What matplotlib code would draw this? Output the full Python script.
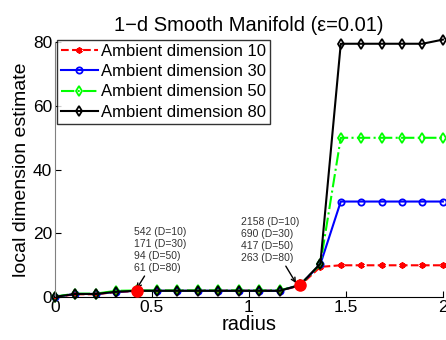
import matplotlib
matplotlib.use('Agg')
import matplotlib.pyplot as plt
import numpy as np

plt.rcParams['font.family'] = ['Liberation Sans', 'DejaVu Sans']

radius = np.linspace(0, 2, 20)
d10 = [0.0, 0.9, 0.9, 1.6, 1.9, 2.0, 2.0, 2.0, 2.0, 2.0, 2.0, 2.0, 3.6, 9.5, 10, 10, 10, 10, 10, 10]
d30 = [0.1, 1.0, 1.0, 1.7, 2.0, 2.0, 2.0, 2.0, 2.0, 2.0, 2.0, 2.0, 3.8, 10.3, 30, 30, 30, 30, 30, 30]
d50 = [0.2, 1.1, 1.1, 2.0, 2.1, 2.1, 2.1, 2.1, 2.1, 2.1, 2.1, 2.1, 3.8, 10.3, 50, 50, 50, 50, 50, 50]
d80 = [0.1, 1.0, 1.0, 1.7, 2.0, 2.0, 2.0, 2.0, 2.0, 2.0, 2.0, 2.0, 3.8, 10.5, 79.5, 79.5, 79.5, 79.5, 79.5, 80.8]
labels = ['Ambient dimension 10', 'Ambient dimension 30', 'Ambient dimension 50', 'Ambient dimension 80']

# highlighted points and their sample counts
hi_idx = [4, 12]
notes = ['542 (D=10)\n171 (D=30)\n94 (D=50)\n61 (D=80)',
         '2158 (D=10)\n690 (D=30)\n417 (D=50)\n263 (D=80)']

fig = plt.figure(figsize=(4.46, 3.40), dpi=100)
ax = fig.add_axes([0.123, 0.126, 0.870, 0.750])

ax.plot(radius, d10, color='red', ls='--', marker=(6, 2, 0), ms=4.5, mew=1.3, lw=1.5, label=labels[0])
ax.plot(radius, d30, color='blue', ls='-', marker='o', ms=4.5, mfc='none', mew=1.3, lw=1.5, label=labels[1])
ax.plot(radius, d50, color='#00ff00', ls='-.', marker='d', ms=5, mfc='none', mew=1.3, lw=1.5, label=labels[2])
ax.plot(radius, d80, color='black', ls='-', marker='d', ms=5, mfc='none', mew=1.3, lw=1.5, label=labels[3])

for i in hi_idx:
    ax.plot(radius[i], d80[i], 'o', color='red', ms=8, zorder=5)

ax.annotate(notes[0], xy=(radius[4], d80[4] + 0.6), xytext=(0.41, 7.5),
            fontsize=7.5, color='#333333', linespacing=1.25, va='bottom', ha='left',
            arrowprops=dict(arrowstyle='->', color='black', lw=1.0, shrinkA=0, shrinkB=0))
ax.annotate(notes[1], xy=(radius[12] - 0.02, d80[12] + 0.6), xytext=(0.96, 10.6),
            fontsize=7.5, color='#333333', linespacing=1.25, va='bottom', ha='left',
            arrowprops=dict(arrowstyle='->', color='black', lw=1.0, shrinkA=0, shrinkB=0))

ax.set_xlim(0, 2)
ax.set_ylim(0, 80)
ax.set_xticks([0, 0.5, 1, 1.5, 2])
ax.set_xticklabels(['0', '0.5', '1', '1.5', '2'])
ax.set_yticks([0, 20, 40, 60, 80])
ax.tick_params(direction='in', labelsize=12.5, length=4, pad=2)
ax.spines['top'].set_visible(False)
ax.spines['right'].set_visible(False)
ax.spines['left'].set_color('#808080')
for p in ax.get_children():
    if isinstance(p, matplotlib.lines.Line2D):
        p.set_clip_on(False)

ax.set_xlabel('radius', fontsize=14.5, labelpad=0)
ax.set_ylabel('local dimension estimate', fontsize=14, labelpad=2)
ax.set_title('1\u2212d Smooth Manifold (\u03b5=0.01)', fontsize=14.5, pad=8)

leg = ax.legend(loc='upper left', bbox_to_anchor=(0.005, 1.01), fontsize=12, frameon=True,
                fancybox=False, edgecolor='black', handlelength=2.2, handletextpad=0.2,
                borderpad=0.25, labelspacing=0.32, borderaxespad=0)
leg.get_frame().set_linewidth(1.0)

plt.savefig('out.png', dpi=100)
plt.close()
